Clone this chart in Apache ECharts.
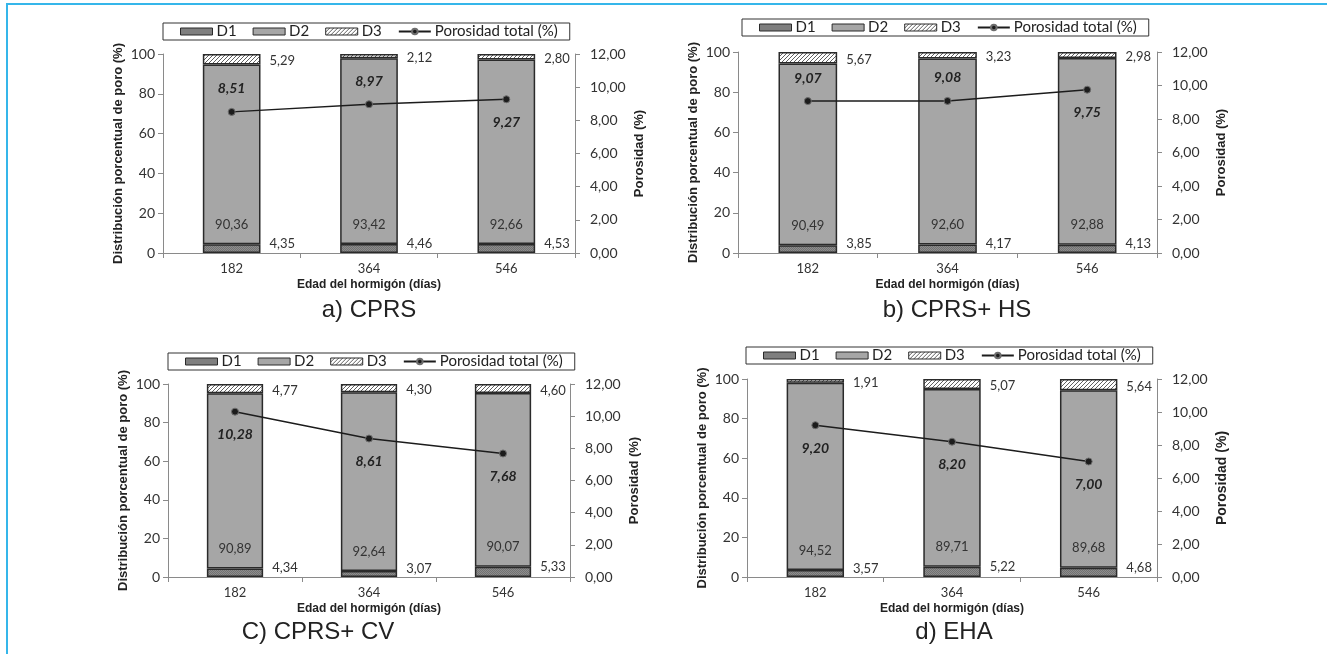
<!DOCTYPE html>
<html>
<head>
<meta charset="utf-8">
<script src="https://cdn.jsdelivr.net/npm/echarts@6/dist/echarts.min.js"></script>
<style>
  html, body { margin: 0; padding: 0; background: #fff; }
  #chart { width: 1327px; height: 654px; }
</style>
</head>
<body>
<div id="chart"></div>
<script>
// Edades del hormigón (días)
const edades = ['182', '364', '546'];

// a) CPRS
const d1CPRS = [4.35, 4.46, 4.53];
const d2CPRS = [90.36, 93.42, 92.66];
const d3CPRS = [5.29, 2.12, 2.80];
const porCPRS = [8.51, 8.97, 9.27];

// b) CPRS+ HS
const d1HS = [3.85, 4.17, 4.13];
const d2HS = [90.49, 92.60, 92.88];
const d3HS = [5.67, 3.23, 2.98];
const porHS = [9.07, 9.08, 9.75];

// C) CPRS+ CV
const d1CV = [4.34, 3.07, 5.33];
const d2CV = [90.89, 92.64, 90.07];
const d3CV = [4.77, 4.30, 4.60];
const porCV = [10.28, 8.61, 7.68];

// d) EHA
const d1EHA = [3.57, 5.22, 4.68];
const d2EHA = [94.52, 89.71, 89.68];
const d3EHA = [1.91, 5.07, 5.64];
const porEHA = [9.20, 8.20, 7.00];

const captions = ['a) CPRS', 'b) CPRS+ HS', 'C) CPRS+ CV', 'd) EHA'];

const panelsData = [
  { d1: d1CPRS, d2: d2CPRS, d3: d3CPRS, por: porCPRS },
  { d1: d1HS, d2: d2HS, d3: d3HS, por: porHS },
  { d1: d1CV, d2: d2CV, d3: d3CV, por: porCV },
  { d1: d1EHA, d2: d2EHA, d3: d3EHA, por: porEHA }
];

// Layout of each panel (pixels)
const layout = [
  { grid: [163, 54, 412, 199], legend: [163, 23], caption: [369, 310], porSide: ['top', 'top', 'bottom'], rightNameSize: 13 },
  { grid: [738, 52, 419, 201], legend: [742, 19], caption: [957, 310], porSide: ['top', 'top', 'bottom'], rightNameSize: 13 },
  { grid: [168, 384, 402, 193], legend: [168, 353], caption: [318, 632], porSide: ['bottom', 'bottom', 'bottom'], rightNameSize: 13 },
  { grid: [747, 379, 410, 198], legend: [746, 347], caption: [954, 632], porSide: ['bottom', 'bottom', 'bottom'], rightNameSize: 14 }
];

// Fill textures
function dotTexture() {
  const c = document.createElement('canvas');
  c.width = 2; c.height = 2;
  const g = c.getContext('2d');
  g.fillStyle = '#8d8d8d'; g.fillRect(0, 0, 2, 2);
  g.fillStyle = '#727272'; g.fillRect(0, 0, 1, 1); g.fillRect(1, 1, 1, 1);
  return c;
}
function hatchTexture() {
  const c = document.createElement('canvas');
  c.width = 4; c.height = 4;
  const g = c.getContext('2d');
  g.fillStyle = '#ffffff'; g.fillRect(0, 0, 4, 4);
  g.strokeStyle = '#606060'; g.lineWidth = 1;
  g.beginPath();
  g.moveTo(0, 4); g.lineTo(4, 0);
  g.moveTo(-1, 1); g.lineTo(1, -1);
  g.moveTo(3, 5); g.lineTo(5, 3);
  g.stroke();
  return c;
}
const fillD1 = { image: dotTexture(), repeat: 'repeat' };
const fillD2 = '#a6a6a6';
const fillD3 = { image: hatchTexture(), repeat: 'repeat' };

const fmt = v => Number(v).toFixed(2).replace('.', ',');
const labelFont = { fontFamily: 'Lato', fontSize: 13, color: '#333' };
const axisGrey = '#8a8a8a';
const barBorder = { borderColor: '#2a2a2a', borderWidth: 1.5 };

const grids = [], xAxes = [], yAxes = [], series = [], legends = [], graphics = [];

layout.forEach((L, i) => {
  const [gx, gy, gw, gh] = L.grid;
  const P = panelsData[i];
  grids.push({ left: gx, top: gy, width: gw, height: gh, containLabel: false });

  xAxes.push({
    type: 'category', gridIndex: i, data: edades,
    axisLine: { lineStyle: { color: axisGrey, width: 1 } },
    axisTick: { show: true, length: 5, alignWithLabel: false, lineStyle: { color: axisGrey } },
    axisLabel: { fontFamily: 'Lato', fontSize: 13, color: '#333', margin: 9 },
    name: 'Edad del hormigón (días)', nameLocation: 'middle', nameGap: 26,
    nameTextStyle: { fontFamily: 'Liberation Sans', fontWeight: 'bold', fontSize: 12, color: '#222' }
  });

  yAxes.push({
    type: 'value', gridIndex: i, min: 0, max: 100, interval: 20, position: 'left',
    axisLine: { show: true, lineStyle: { color: axisGrey } },
    axisTick: { show: true, length: 5, lineStyle: { color: axisGrey } },
    splitLine: { show: false },
    axisLabel: { fontFamily: 'Lato', fontSize: 14, color: '#333', margin: 8 },
    name: 'Distribución porcentual de poro (%)', nameLocation: 'middle', nameGap: 38, nameRotate: 90,
    nameTextStyle: { fontFamily: 'Liberation Sans', fontWeight: 'bold', fontSize: 13, color: '#222' }
  });
  yAxes.push({
    type: 'value', gridIndex: i, min: 0, max: 12, interval: 2, position: 'right',
    axisLine: { show: true, lineStyle: { color: axisGrey } },
    axisTick: { show: true, length: 5, lineStyle: { color: axisGrey } },
    splitLine: { show: false },
    axisLabel: { fontFamily: 'Lato', fontSize: 14, color: '#333', margin: 15, formatter: v => fmt(v) },
    name: 'Porosidad (%)', nameLocation: 'middle', nameGap: 58, nameRotate: 90,
    nameTextStyle: { fontFamily: 'Liberation Sans', fontWeight: 'bold', fontSize: L.rightNameSize, color: '#222' }
  });

  const stack = 'dist' + i;
  series.push({
    type: 'bar', name: 'D1', xAxisIndex: i, yAxisIndex: 2 * i, stack, data: P.d1, barWidth: '42%',
    itemStyle: Object.assign({ color: fillD1 }, barBorder),
    label: Object.assign({ show: true, position: 'right', distance: 9, offset: [0, -5], formatter: p => fmt(p.value) }, labelFont)
  });
  series.push({
    type: 'bar', name: 'D2', xAxisIndex: i, yAxisIndex: 2 * i, stack, data: P.d2, barWidth: '42%',
    itemStyle: Object.assign({ color: fillD2 }, barBorder),
    label: Object.assign({ show: true, position: 'insideBottom', distance: 13, formatter: p => fmt(p.value) }, labelFont)
  });
  series.push({
    type: 'bar', name: 'D3', xAxisIndex: i, yAxisIndex: 2 * i, stack, data: P.d3, barWidth: '42%',
    itemStyle: Object.assign({ color: fillD3 }, barBorder),
    label: Object.assign({ show: true, position: 'right', distance: 9, offset: [0, 2], formatter: p => fmt(p.value) }, labelFont)
  });
  series.push({
    type: 'line', name: 'Porosidad total (%)', xAxisIndex: i, yAxisIndex: 2 * i + 1, z: 5,
    data: P.por.map((v, j) => ({ value: v, label: { position: L.porSide[j] } })),
    symbol: 'circle', symbolSize: 7,
    lineStyle: { color: '#1c1c1c', width: 1.5 },
    itemStyle: { color: '#1c1c1c', borderColor: '#6e6e6e', borderWidth: 1 },
    label: {
      show: true, distance: 12, formatter: p => fmt(p.value),
      fontFamily: 'Lato', fontSize: 14, fontWeight: 'bold', fontStyle: 'italic', color: '#222'
    }
  });

  legends.push({
    left: L.legend[0], top: L.legend[1], orient: 'horizontal',
    borderColor: '#333', borderWidth: 1, padding: [1, 12, 1, 17],
    itemGap: 16, itemWidth: 32, itemHeight: 7, selectedMode: false,
    textStyle: { fontFamily: 'Lato', fontSize: 15, color: '#222', padding: [0, 0, 0, -1] },
    data: [
      { name: 'D1', icon: 'rect', itemStyle: { color: fillD1, borderColor: '#2a2a2a', borderWidth: 1 } },
      { name: 'D2', icon: 'rect', itemStyle: { color: fillD2, borderColor: '#2a2a2a', borderWidth: 1 } },
      { name: 'D3', icon: 'rect', itemStyle: { color: fillD3, borderColor: '#2a2a2a', borderWidth: 1 } },
      { name: 'Porosidad total (%)' }
    ]
  });

  graphics.push({
    type: 'text', x: L.caption[0], y: L.caption[1],
    style: { text: captions[i], fontFamily: 'Liberation Sans', fontSize: 24, fill: '#222', align: 'center', verticalAlign: 'middle' }
  });
});

// Frame lines along the top and left edges
graphics.push({ type: 'line', shape: { x1: 6, y1: 4, x2: 1327, y2: 4 }, style: { stroke: '#35b6ea', lineWidth: 2 } });
graphics.push({ type: 'line', shape: { x1: 7, y1: 3, x2: 7, y2: 654 }, style: { stroke: '#35b6ea', lineWidth: 2 } });

const chart = echarts.init(document.getElementById('chart'), null, { renderer: 'canvas' });
chart.setOption({
  backgroundColor: '#ffffff',
  animation: false,
  grid: grids, xAxis: xAxes, yAxis: yAxes,
  legend: legends, series, graphic: graphics
});
</script>
</body>
</html>
